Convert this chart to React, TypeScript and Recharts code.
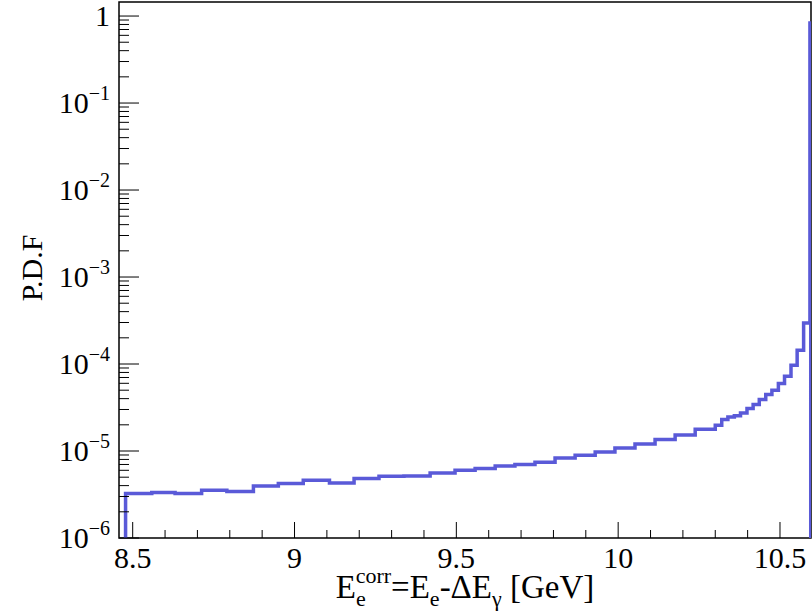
import { LineChart, Line, XAxis, YAxis, ReferenceArea } from "recharts";

// bin edges of the histogram (GeV)
const binEdges = [
  8.478, 8.559, 8.631, 8.713, 8.791, 8.873, 8.95, 9.027, 9.108, 9.184, 9.261,
  9.338, 9.419, 9.496, 9.558, 9.62, 9.681, 9.743, 9.805, 9.867, 9.929, 9.99,
  10.052, 10.114, 10.176, 10.238, 10.3, 10.32, 10.339, 10.359, 10.378, 10.398,
  10.417, 10.436, 10.456, 10.475, 10.495, 10.514, 10.534, 10.553, 10.573,
  10.5925, 10.595,
];

// P.D.F content of each bin
const binValues = [
  3.24e-6, 3.33e-6, 3.24e-6, 3.54e-6, 3.42e-6, 3.96e-6, 4.22e-6, 4.61e-6,
  4.29e-6, 4.82e-6, 5.12e-6, 5.16e-6, 5.59e-6, 6.0e-6, 6.28e-6, 6.73e-6,
  6.98e-6, 7.42e-6, 8.32e-6, 8.93e-6, 9.75e-6, 1.08e-5, 1.2e-5, 1.36e-5,
  1.53e-5, 1.78e-5, 1.98e-5, 2.3e-5, 2.46e-5, 2.55e-5, 2.74e-5, 3.08e-5,
  3.42e-5, 3.91e-5, 4.46e-5, 5.0e-5, 5.97e-5, 7.24e-5, 9.69e-5, 1.44e-4,
  2.97e-4, 0.83,
];

const xTicks = [
  8.5, 8.6, 8.7, 8.8, 8.9, 9, 9.1, 9.2, 9.3, 9.4, 9.5, 9.6, 9.7, 9.8, 9.9, 10,
  10.1, 10.2, 10.3, 10.4, 10.5,
];
const yDecades = [-6, -5, -4, -3, -2, -1, 0];

const X_MIN = 8.4577;
const X_MAX = 10.5958;
const Y_MIN = 1e-6;
const Y_MAX = 1.45;

const yTicks: number[] = [];
yDecades.forEach((e) => {
  for (let m = 1; m <= 9; m++) {
    const v = m * Math.pow(10, e);
    if (v <= Y_MAX) yTicks.push(v);
  }
});

// outline points for a step-after line (starts and ends at the floor)
const last = binValues.length - 1;
const points = [
  { x: binEdges[0], y: Y_MIN },
  ...binValues.map((v, i) => ({ x: binEdges[i], y: v })),
  { x: binEdges[last + 1], y: binValues[last] },
  { x: binEdges[last + 1], y: Y_MIN },
];

const FONT = "'Liberation Serif', 'Times New Roman', serif";
const BLUE = "#5a5ad8";

const XTick = (props: any) => {
  const { x, y, payload } = props;
  const v = payload.value;
  const major = Math.abs(v * 2 - Math.round(v * 2)) < 1e-6;
  return (
    <g>
      <line x1={x} x2={x} y1={y} y2={y - (major ? 16 : 8)} stroke="#000" />
      {major && (
        <text x={x} y={y + 30} textAnchor="middle" fontSize={30} fontFamily={FONT} fill="#000">
          {String(v)}
        </text>
      )}
    </g>
  );
};

const YTick = (props: any) => {
  const { x, y, payload } = props;
  const v = payload.value;
  const e = Math.round(Math.log10(v));
  const major = Math.abs(v / Math.pow(10, e) - 1) < 1e-6;
  return (
    <g>
      <line x1={x} x2={x + (major ? 20 : 10)} y1={y} y2={y} stroke="#000" />
      {major && (
        <text x={x - 9} y={y + 10} textAnchor="end" fontSize={30} fontFamily={FONT} fill="#000">
          {e === 0 ? "1" : "10"}
          {e !== 0 && (
            <tspan fontSize={20} dy={-13}>
              {"\u2212" + Math.abs(e)}
            </tspan>
          )}
        </text>
      )}
    </g>
  );
};

const YTitle = () => (
  <text
    x={42}
    y={268}
    transform="rotate(-90, 42, 268)"
    textAnchor="middle"
    fontSize={30}
    fontFamily={FONT}
    fill="#000"
  >
    P.D.F
  </text>
);

const XTitle = () => (
  <text x={465} y={598} textAnchor="middle" fontSize={33} fontFamily={FONT} fill="#000">
    E
    <tspan fontSize={22} dy={8}>e</tspan>
    <tspan fontSize={22} dx={-10} dy={-23}>corr</tspan>
    <tspan dy={15}>=E</tspan>
    <tspan fontSize={22} dy={8}>e</tspan>
    <tspan dy={-8}>-ΔE</tspan>
    <tspan fontSize={22} dy={8}>γ</tspan>
    <tspan dy={-8}> [GeV]</tspan>
  </text>
);

export default function App() {
  return (
    <div style={{ position: "absolute", left: 0, top: 0, width: 812, height: 611, background: "#fff" }}>
      <LineChart
        width={812}
        height={611}
        data={points}
        margin={{ top: 2, right: 1, bottom: 0, left: 0 }}
      >
        <XAxis
          dataKey="x"
          type="number"
          domain={[X_MIN, X_MAX]}
          allowDataOverflow
          ticks={xTicks}
          interval={0}
          height={73}
          tickSize={0}
          tickMargin={0}
          tickLine={false}
          axisLine={false}
          tick={<XTick />}
          label={{ content: () => <XTitle /> }}
        />
        <YAxis
          dataKey="y"
          type="number"
          scale="log"
          domain={[Y_MIN, Y_MAX]}
          allowDataOverflow
          ticks={yTicks}
          interval={0}
          width={119}
          tickSize={0}
          tickMargin={0}
          tickLine={false}
          axisLine={false}
          tick={<YTick />}
          label={{ content: () => <YTitle /> }}
        />
        <ReferenceArea
          x1={X_MIN}
          x2={X_MAX}
          y1={Y_MIN}
          y2={Y_MAX}
          fill="none"
          stroke="#000"
          strokeWidth={1.5}
        />
        <Line
          type="stepAfter"
          dataKey="y"
          stroke={BLUE}
          strokeWidth={3.5}
          dot={false}
          activeDot={false}
          isAnimationActive={false}
        />
      </LineChart>
    </div>
  );
}
